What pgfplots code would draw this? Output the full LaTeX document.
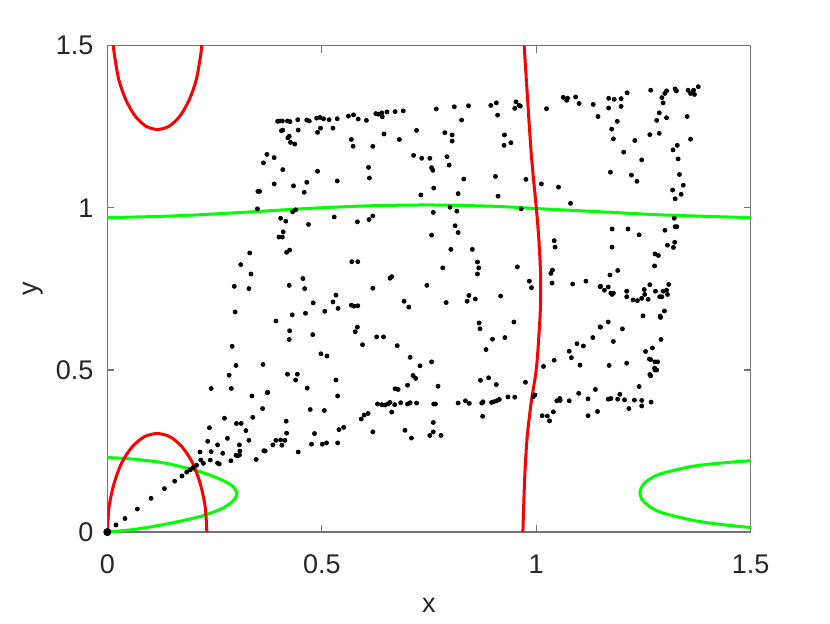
\documentclass[border=0pt]{standalone}
\usepackage{pgfplots}
\pgfplotsset{compat=1.18}
\usepackage{fontspec}
\setmainfont{Liberation Sans}
\definecolor{axgray}{rgb}{0.15,0.15,0.15}
\begin{document}
\begin{tikzpicture}
\path[use as bounding box] (-53.7pt,-45.5pt) rectangle (361.4pt,266.1pt);
\begin{axis}[
    scale only axis,
    width=321.7pt, height=243.2pt,
    xmin=0, xmax=1.5, ymin=0, ymax=1.5,
    xtick={0,0.5,1,1.5}, ytick={0,0.5,1,1.5},
    tick align=inside,
    major tick length=3.5pt,
    axis line style={black!55, line width=0.6pt},
    tick style={black!55, line width=0.6pt},
    font=\fontsize{13.5}{16}\selectfont,
    /pgf/number format/assume math mode=true,
    ticklabel style={text=axgray, font=\fontsize{13.5}{16}\selectfont},
    xticklabel style={yshift=-8pt},
    yticklabel style={xshift=-3.5pt},
    xlabel={x}, ylabel={y},
    xlabel style={at={(axis description cs:0.5,-0.150)}, anchor=center, text=axgray, font=\fontsize{13.5}{16}\selectfont},
    ylabel style={at={(axis description cs:-0.115,0.5)}, anchor=center, text=axgray, font=\fontsize{13.5}{16}\selectfont},
]
% green curves
\addplot[green, line width=1.5pt, smooth] coordinates {
(0,0.970) (0.15,0.975) (0.3,0.985) (0.45,0.997) (0.6,1.006) (0.75,1.009)
(0.9,1.005) (1.0,0.998) (1.15,0.988) (1.3,0.978) (1.5,0.970)};
\addplot[green, line width=1.5pt, smooth] coordinates {
(0,0.230) (0.061,0.225) (0.138,0.212) (0.216,0.186) (0.25,0.170) (0.275,0.156) (0.293,0.140)
(0.302,0.121) (0.298,0.104) (0.285,0.087) (0.263,0.070) (0.216,0.048) (0.138,0.025) (0.061,0.008) (0,0.0)};
\addplot[green, line width=1.5pt, smooth] coordinates {
(1.5,0.220) (1.448,0.215) (1.370,0.204) (1.293,0.181) (1.263,0.162) (1.247,0.142) (1.242,0.121)
(1.247,0.100) (1.263,0.080) (1.293,0.060) (1.370,0.035) (1.448,0.021) (1.5,0.0145)};
% red curves
\addplot[red, line width=1.5pt, smooth] coordinates {
(0.013,1.546) (0.014,1.5) (0.017,1.467) (0.027,1.394) (0.044,1.331) (0.065,1.283)
(0.090,1.252) (0.117,1.242) (0.144,1.252) (0.169,1.283) (0.190,1.331) (0.207,1.394)
(0.217,1.467) (0.220,1.5) (0.221,1.546)};
\addplot[red, line width=1.5pt, smooth] coordinates {
(0,0) (0.004,0.079) (0.016,0.152) (0.034,0.215) (0.058,0.263) (0.086,0.294)
(0.116,0.304) (0.146,0.294) (0.174,0.263) (0.198,0.215) (0.216,0.152) (0.228,0.079) (0.232,0)};
\addplot[red, line width=1.5pt, smooth] coordinates {
(0.969,0) (0.971,0.088) (0.974,0.191) (0.979,0.294) (0.988,0.397) (1.0,0.5)
(1.006,0.6) (1.010,0.7) (1.010,0.8) (1.006,0.906) (1.0,1.003) (0.989,1.158)
(0.981,1.312) (0.972,1.5)};
% scatter
\addplot[only marks, mark=*, mark size=1pt, black] coordinates {
(0.020,0.022) (0.041,0.042) (0.070,0.071) (0.102,0.104) (0.133,0.134) (0.157,0.157)
(0.174,0.173) (0.185,0.185) (0.193,0.192) (0.200,0.199) (0.208,0.206)
(0.284,0.484) (0.242,0.443) (0.289,0.443) (0.337,0.420) (0.373,0.430) (0.362,0.381)
(0.339,0.354) (0.273,0.351) (0.301,0.335) (0.312,0.335) (0.238,0.322) (0.323,0.313)
(0.280,0.289) (0.234,0.280) (0.330,0.283) (0.257,0.269) (0.308,0.269) (0.216,0.247)
(0.242,0.248) (0.269,0.243) (0.309,0.250) (0.365,0.251) (0.300,0.237) (0.304,0.235)
(0.308,0.238) (0.218,0.222) (0.240,0.222) (0.257,0.213) (0.261,0.210) (0.288,0.220)
(0.347,0.224) (0.224,0.212)
(0.420,0.487) (0.443,0.487) (0.439,0.469) (0.374,0.431) (0.466,0.444) (0.533,0.469)
(0.537,0.420) (0.473,0.378) (0.506,0.375) (0.417,0.342) (0.418,0.305) (0.483,0.304)
(0.540,0.316) (0.551,0.323) (0.368,0.250) (0.386,0.269) (0.393,0.283) (0.404,0.284)
(0.414,0.283) (0.407,0.268) (0.445,0.247) (0.476,0.271) (0.501,0.271) (0.511,0.275)
(0.537,0.275) (0.592,0.349) (0.599,0.361) (0.608,0.366) (0.619,0.309) (0.630,0.395)
(0.640,0.393) (0.648,0.392) (0.654,0.395) (0.659,0.400) (0.663,0.370) (0.670,0.393)
(0.671,0.442) (0.678,0.440) (0.684,0.399) (0.700,0.395) (0.706,0.399) (0.700,0.453)
(0.713,0.483) (0.719,0.474) (0.721,0.398) (0.694,0.314) (0.709,0.290) (0.752,0.298)
(0.761,0.395) (0.760,0.338) (0.760,0.309)
(0.771,0.450) (0.765,0.395) (0.778,0.298) (0.818,0.398) (0.835,0.405) (0.844,0.397)
(0.870,0.468) (0.889,0.476) (0.907,0.455) (0.873,0.398) (0.876,0.402) (0.875,0.357)
(0.896,0.400) (0.901,0.402) (0.908,0.405) (0.914,0.409) (0.934,0.417) (0.950,0.416)
(0.975,0.462) (0.993,0.417) (0.997,0.423) (1.014,0.359) (1.026,0.358) (1.031,0.343)
(1.040,0.371) (1.048,0.405) (1.055,0.412) (1.056,0.406) (1.077,0.405) (1.099,0.428)
(1.121,0.411) (1.121,0.359) (1.138,0.440) (1.143,0.372)
(1.277,0.500) (1.267,0.482) (1.240,0.449) (1.168,0.410) (1.174,0.412) (1.190,0.410)
(1.195,0.425) (1.206,0.408) (1.216,0.381) (1.229,0.407) (1.246,0.406) (1.246,0.389)
(1.268,0.401)
(0.350,0.997) (0.332,0.861) (0.311,0.825) (0.335,0.796) (0.296,0.758) (0.330,0.751)
(0.298,0.679) (0.291,0.573) (0.300,0.514) (0.363,0.517)
(0.372,1.165) (0.364,1.139) (0.351,1.051) (0.355,1.051)
(0.432,0.988) (0.439,0.994) (0.404,0.968) (0.416,0.959) (0.469,0.949) (0.529,0.972)
(0.583,0.957) (0.610,0.964) (0.619,0.975) (0.760,0.986) (0.756,0.916) (0.410,0.926)
(0.400,0.910) (0.408,0.910) (0.418,0.863) (0.425,0.870) (0.570,0.834) (0.584,0.834)
(0.456,0.782) (0.424,0.761) (0.460,0.751) (0.619,0.752) (0.659,0.783) (0.663,0.788)
(0.745,0.761) (0.533,0.731) (0.480,0.707) (0.526,0.710) (0.538,0.690) (0.569,0.700)
(0.575,0.697) (0.584,0.698) (0.507,0.681) (0.462,0.675) (0.431,0.670) (0.393,0.651)
(0.692,0.712) (0.703,0.694) (0.583,0.632) (0.578,0.618) (0.425,0.621) (0.424,0.594)
(0.479,0.609) (0.628,0.602) (0.644,0.602) (0.595,0.578) (0.676,0.575) (0.498,0.550)
(0.512,0.543) (0.706,0.539) (0.729,0.513) (0.756,0.525)
(0.799,1.002) (0.815,0.990) (0.965,0.997) (0.811,0.945) (0.818,0.924) (0.801,0.872)
(0.851,0.872) (0.863,0.833) (0.866,0.815) (0.863,0.796) (0.782,0.815) (0.956,0.818)
(0.984,0.774) (0.989,0.754) (1.042,0.899) (1.044,0.879) (1.038,0.808) (1.034,0.798)
(1.037,0.768) (1.085,0.765) (1.116,0.774) (1.149,0.757) (0.843,0.730) (0.839,0.712)
(0.858,0.719) (0.790,0.708) (0.917,0.728) (0.867,0.645) (0.869,0.627) (0.948,0.648)
(0.898,0.595) (0.927,0.600) (0.883,0.563) (1.017,0.511) (1.042,0.530) (1.077,0.558)
(1.082,0.538) (1.095,0.581) (1.110,0.574) (1.132,0.600) (1.102,0.515) (1.149,0.633)
(1.322,0.968) (1.324,0.942) (1.328,0.942) (1.177,0.935) (1.214,0.935) (1.240,0.917)
(1.300,0.931) (1.177,0.879) (1.306,0.885) (1.320,0.878) (1.323,0.894) (1.277,0.858)
(1.285,0.853) (1.276,0.821) (1.172,0.793) (1.190,0.807) (1.150,0.758) (1.159,0.746)
(1.168,0.756) (1.174,0.737) (1.177,0.733) (1.180,0.737) (1.211,0.743) (1.211,0.726)
(1.226,0.716) (1.236,0.714) (1.246,0.721) (1.253,0.733) (1.252,0.748) (1.261,0.718)
(1.265,0.763) (1.278,0.743) (1.288,0.726) (1.293,0.726) (1.296,0.743) (1.304,0.746)
(1.306,0.733) (1.309,0.764) (1.249,0.667) (1.289,0.666) (1.290,0.662) (1.299,0.682)
(1.150,0.632) (1.168,0.648) (1.201,0.627) (1.180,0.588) (1.291,0.594) (1.255,0.557)
(1.271,0.568) (1.264,0.534) (1.267,0.532) (1.277,0.525) (1.283,0.525) (1.276,0.506)
(1.281,0.500) (1.170,0.514) (1.211,0.521) (1.265,0.486)
(0.397,1.267) (0.402,1.268) (0.408,1.268) (0.420,1.268) (0.426,1.266) (0.444,1.272)
(0.465,1.271) (0.471,1.268) (0.488,1.277) (0.496,1.279) (0.504,1.275) (0.517,1.272)
(0.536,1.275) (0.562,1.283) (0.574,1.287) (0.585,1.274) (0.604,1.270) (0.626,1.291)
(0.632,1.289) (0.640,1.293) (0.641,1.281) (0.652,1.296) (0.671,1.297) (0.690,1.299)
(0.409,1.240) (0.406,1.238) (0.445,1.240) (0.490,1.233) (0.497,1.246) (0.526,1.246)
(0.424,1.221) (0.421,1.216) (0.427,1.202) (0.437,1.197) (0.569,1.211) (0.573,1.190)
(0.619,1.190) (0.645,1.228) (0.681,1.211) (0.721,1.239) (0.389,1.155) (0.409,1.118)
(0.490,1.113) (0.609,1.125) (0.611,1.092) (0.389,1.074) (0.434,1.068) (0.465,1.079)
(0.459,1.048) (0.536,1.083) (0.714,1.162) (0.733,1.153) (0.752,1.153) (0.756,1.124)
(0.759,1.116) (0.731,1.040) (0.761,1.061)
(0.767,1.305) (0.809,1.312) (0.842,1.315) (0.894,1.316) (0.907,1.324) (0.950,1.307)
(0.953,1.327) (0.960,1.316) (0.963,1.314) (1.024,1.306) (1.063,1.341) (1.071,1.332)
(1.073,1.338) (1.092,1.342) (1.100,1.322) (1.133,1.319) (1.144,1.282) (0.826,1.271)
(0.910,1.286) (0.787,1.232) (0.804,1.225) (0.804,1.206) (0.926,1.225) (0.925,1.193)
(0.941,1.201) (0.792,1.158) (0.797,1.132) (0.831,1.089) (0.905,1.097) (0.976,1.088)
(1.012,1.074) (1.052,1.064) (0.818,1.044) (0.911,1.036) (1.080,1.014)
(1.267,1.363) (1.324,1.367) (1.327,1.361) (1.354,1.363) (1.360,1.353) (1.367,1.363)
(1.369,1.350) (1.378,1.374) (1.212,1.355) (1.169,1.338) (1.182,1.335) (1.198,1.337)
(1.169,1.308) (1.198,1.313) (1.189,1.267) (1.176,1.243) (1.180,1.213) (1.230,1.208)
(1.204,1.172) (1.246,1.148) (1.173,1.110) (1.222,1.101) (1.235,1.082) (1.304,1.361)
(1.300,1.353) (1.293,1.340) (1.296,1.324) (1.287,1.293) (1.281,1.270) (1.304,1.278)
(1.265,1.226) (1.287,1.230) (1.352,1.282) (1.360,1.212) (1.329,1.193) (1.319,1.179)
(1.331,1.151) (1.334,1.103) (1.343,1.070) (1.318,1.055) (1.338,1.042) (1.324,1.028)
};
\addplot[only marks, mark=*, mark size=1.8pt, black] coordinates {(0,0)};
\end{axis}
\end{tikzpicture}
\end{document}
